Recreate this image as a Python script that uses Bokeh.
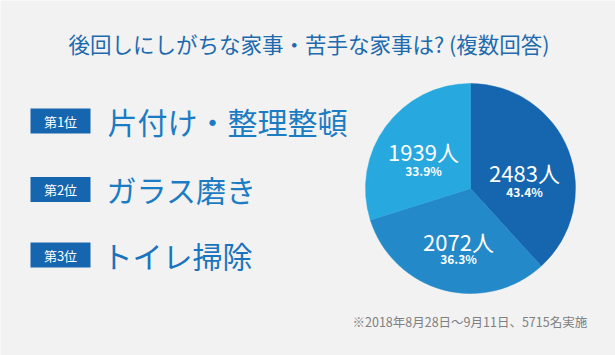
import math
from bokeh.plotting import figure
from bokeh.models import Range1d, ColumnDataSource
from bokeh.core.properties import value
from bokeh.embed import file_html
from bokeh.resources import INLINE

# ---- data ----
title = "後回しにしがちな家事・苦手な家事は? (複数回答)"
ranks = ["第1位", "第2位", "第3位"]
chores = ["片付け・整理整頓", "ガラス磨き", "トイレ掃除"]
counts = [2483, 2072, 1939]
count_labels = ["2483人", "2072人", "1939人"]
pct_labels = ["43.4%", "36.3%", "33.9%"]
note = "※2018年8月28日～9月11日、5715名実施"

# ---- layout / style ----
W, H = 615, 355
BG = "#f2f2f2"
FONT = "Noto Sans CJK JP"
slice_colors = ["#1566ae", "#2489c8", "#27a8de"]
chore_colors = ["#1c7cc3", "#1b7cc3", "#1a74bd"]

def Y(y):  # screen y -> data y
    return H - y

p = figure(width=W, height=H, x_range=Range1d(0, W), y_range=Range1d(0, H),
           output_backend="svg", toolbar_location=None, min_border=0)
p.axis.visible = False
p.grid.visible = False
p.outline_line_color = None
p.background_fill_color = BG
p.border_fill_color = BG

# title
p.text(x=[W / 2 + 1], y=[Y(43)], text=[title], text_font=value(FONT),
       text_font_size="21.5px", text_color="#1d6aae", text_align="center",
       text_baseline="middle")

# ranking boxes and labels
box_y = [Y(120.5), Y(189), Y(254.5)]
p.rect(x=[60] * 3, y=box_y, width=60, height=25, fill_color="#1566ae", line_color=None)
p.text(x=[60] * 3, y=box_y, text=ranks, text_font=value(FONT), text_font_size="13px",
       text_color="white", text_align="center", text_baseline="middle")
p.text(x=[107, 106, 102], y=[y + 0.5 for y in box_y], text=chores, text_font=value(FONT),
       text_font_size="30px", text_color=chore_colors, text_align="left",
       text_baseline="middle")

# pie
cx, cy, r = 470, Y(188), 105
total = sum(counts)
starts, ends, acc = [], [], 0.0
for c in counts:
    starts.append(math.pi / 2 - 2 * math.pi * acc / total)
    acc += c
    ends.append(math.pi / 2 - 2 * math.pi * acc / total)
src = ColumnDataSource(dict(start=starts, end=ends, color=slice_colors))
p.wedge(x=cx, y=cy, radius=r, start_angle="start", end_angle="end", direction="clock",
        fill_color="color", line_color="color", line_width=0.5, source=src)

# pie labels
lab_x = [524, 458, 423]
num_y = [Y(171), Y(240), Y(150)]
pct_y = [Y(191), Y(258), Y(170)]
p.text(x=lab_x, y=num_y, text=count_labels, text_font=value(FONT), text_font_size="22px",
       text_color="white", text_align="center", text_baseline="middle")
p.text(x=lab_x, y=pct_y, text=pct_labels, text_font=value(FONT), text_font_size="12px",
       text_font_style="bold", text_color="white", text_align="center",
       text_baseline="middle")

# footnote
p.text(x=[352], y=[Y(321)], text=[note], text_font=value(FONT), text_font_size="12.5px",
       text_color="#808080", text_align="left", text_baseline="middle")

open("out.html", "w").write(file_html(p, INLINE))
